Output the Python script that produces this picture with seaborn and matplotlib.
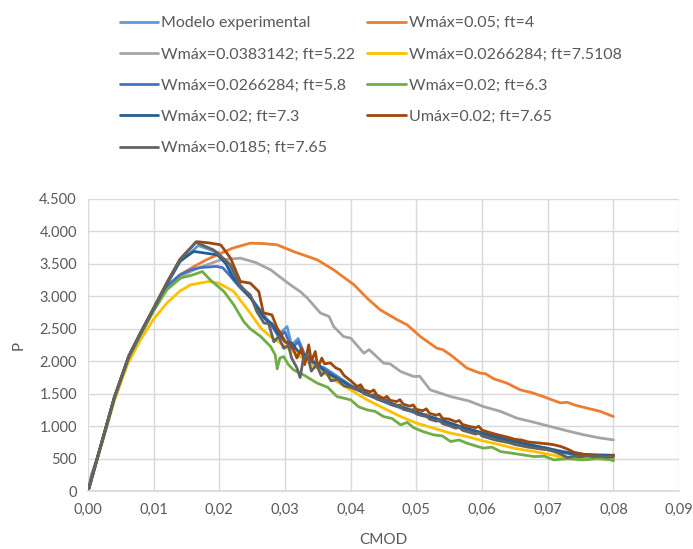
import pandas as pd
import matplotlib
matplotlib.use("Agg")
import matplotlib.pyplot as plt
from matplotlib.ticker import FuncFormatter, MultipleLocator
import seaborn as sns

# Series names (legend order, row by row)
names = [
    "Modelo experimental",
    "Wmáx=0.05; ft=4",
    "Wmáx=0.0383142; ft=5.22",
    "Wmáx=0.0266284; ft=7.5108",
    "Wmáx=0.0266284; ft=5.8",
    "Wmáx=0.02; ft=6.3",
    "Wmáx=0.02; ft=7.3",
    "Umáx=0.02; ft=7.65",
    "Wmáx=0.0185; ft=7.65",
]
colors = ["#5B9BD5", "#ED7D31", "#A5A5A5", "#FFC000", "#4472C4",
          "#70AD47", "#255E91", "#9E480E", "#636363"]

# Modelo experimental
x_exp = [0, 0.0005, 0.002, 0.004, 0.0062, 0.008, 0.010, 0.012, 0.014, 0.0168, 0.0199,
         0.0215, 0.023, 0.025, 0.0265, 0.028, 0.029, 0.0303, 0.031, 0.032, 0.033, 0.034,
         0.035, 0.036, 0.0375, 0.039, 0.040, 0.042, 0.044, 0.046, 0.048, 0.050, 0.052,
         0.054, 0.056, 0.058, 0.060, 0.062, 0.064, 0.066, 0.068, 0.070, 0.072, 0.074,
         0.076, 0.078, 0.080]
p_exp = [0, 250, 700, 1400, 2040, 2420, 2800, 3180, 3530, 3780, 3668,
         3450, 3200, 2950, 2750, 2550, 2400, 2535, 2250, 2350, 2100, 2050,
         1930, 1900, 1800, 1700, 1630, 1530, 1430, 1350, 1290, 1220, 1150,
         1080, 1010, 950, 900, 840, 790, 740, 700, 660, 620, 580,
         560, 540, 470]

# Wmáx=0.05; ft=4
x_w1 = [0, 0.002, 0.004, 0.0062, 0.008, 0.010, 0.012, 0.014, 0.016, 0.018, 0.020, 0.022,
        0.0247, 0.0268, 0.0288, 0.0313, 0.0349, 0.0374, 0.0405, 0.0425, 0.0445, 0.0471,
        0.0486, 0.0506, 0.0531, 0.054, 0.0552, 0.0577, 0.0597, 0.0605, 0.0618, 0.0638,
        0.0658, 0.0675, 0.0693, 0.0719, 0.073, 0.074, 0.076, 0.078, 0.080]
p_w1 = [0, 720, 1440, 2060, 2420, 2790, 3150, 3330, 3450, 3560, 3650, 3740,
        3817, 3810, 3791, 3688, 3561, 3407, 3176, 2971, 2791, 2638,
        2561, 2381, 2202, 2180, 2099, 1895, 1818, 1810, 1730, 1664,
        1561, 1520, 1458, 1361, 1370, 1330, 1279, 1230, 1150]

# Wmáx=0.0383142; ft=5.22
x_w2 = [0, 0.002, 0.004, 0.0062, 0.008, 0.010, 0.012, 0.014, 0.016, 0.018, 0.0202, 0.0232,
        0.0255, 0.0278, 0.0298, 0.0308, 0.0323, 0.0334, 0.0354, 0.0367, 0.0374, 0.0389,
        0.040, 0.042, 0.0428, 0.045, 0.046, 0.0476, 0.0496, 0.0505, 0.0521, 0.0552,
        0.058, 0.0602, 0.0628, 0.0653, 0.068, 0.0704, 0.073, 0.0755, 0.078, 0.080]
p_w2 = [0, 720, 1440, 2060, 2420, 2780, 3120, 3300, 3400, 3480, 3561, 3586,
        3520, 3407, 3253, 3176, 3073, 2971, 2741, 2689, 2535, 2381,
        2356, 2125, 2180, 1972, 1960, 1843, 1766, 1770, 1561, 1458,
        1390, 1304, 1230, 1126, 1060, 997, 930, 869, 820, 792]

# Wmáx=0.0266284; ft=7.5108
x_w3 = [0, 0.002, 0.004, 0.006, 0.008, 0.010, 0.012, 0.014, 0.0156, 0.0184, 0.0199, 0.0222,
        0.0247, 0.0263, 0.0278, 0.030, 0.0323, 0.035, 0.0374, 0.040, 0.0425, 0.045,
        0.0476, 0.050, 0.0526, 0.055, 0.0577, 0.060, 0.0628, 0.065, 0.0679, 0.0719,
        0.075, 0.0775, 0.080]
p_w3 = [0, 700, 1400, 1950, 2330, 2650, 2894, 3080, 3176, 3227, 3202, 3073,
        2741, 2510, 2381, 2230, 2073, 1890, 1715, 1560, 1407, 1280,
        1150, 1050, 972, 900, 843, 780, 715, 660, 612, 535,
        520, 515, 510]

# Wmáx=0.0266284; ft=5.8
x_w4 = [0, 0.002, 0.004, 0.0062, 0.008, 0.010, 0.012, 0.014, 0.0155, 0.017, 0.0195, 0.0205,
        0.0215, 0.023, 0.025, 0.0265, 0.028, 0.029, 0.030, 0.031, 0.032, 0.033, 0.034,
        0.035, 0.036, 0.0375, 0.039, 0.040, 0.042, 0.044, 0.046, 0.048, 0.050, 0.052,
        0.054, 0.056, 0.058, 0.060, 0.062, 0.064, 0.066, 0.068, 0.070, 0.072, 0.074,
        0.076, 0.078, 0.080]
p_w4 = [0, 720, 1440, 2070, 2430, 2800, 3150, 3330, 3400, 3440, 3460, 3440,
        3330, 3150, 2950, 2700, 2550, 2380, 2450, 2200, 2300, 2080, 2000,
        1950, 1880, 1780, 1680, 1620, 1510, 1420, 1340, 1270, 1200, 1130,
        1060, 990, 940, 880, 830, 770, 730, 680, 640, 600, 570,
        560, 550, 540]

# Wmáx=0.02; ft=6.3
x_w5 = [0, 0.002, 0.004, 0.0062, 0.008, 0.010, 0.012, 0.0141, 0.016, 0.0174, 0.0186, 0.0207,
        0.0222, 0.0237, 0.0247, 0.0263, 0.0278, 0.0285, 0.0288, 0.0292, 0.0298, 0.0305,
        0.0313, 0.033, 0.0349, 0.0365, 0.0379, 0.040, 0.0412, 0.0425, 0.0437, 0.045,
        0.0463, 0.0476, 0.0486, 0.0496, 0.051, 0.0526, 0.054, 0.0552, 0.0565, 0.0577,
        0.059, 0.0602, 0.0615, 0.0628, 0.065, 0.0679, 0.0695, 0.0709, 0.073, 0.0754,
        0.0775, 0.080]
p_w5 = [0, 720, 1430, 2050, 2400, 2780, 3099, 3279, 3330, 3381, 3253, 3073,
        2868, 2612, 2500, 2381, 2227, 2100, 1884, 2050, 2073, 1950,
        1868, 1780, 1664, 1600, 1458, 1407, 1300, 1253, 1230, 1150,
        1120, 1023, 1060, 977, 920, 869, 850, 766, 790, 741,
        700, 664, 680, 612, 580, 535, 540, 484, 500, 484,
        500, 484]

# Wmáx=0.02; ft=7.3
x_w6 = [0, 0.002, 0.004, 0.0062, 0.008, 0.010, 0.012, 0.014, 0.0161, 0.0197, 0.021, 0.022,
        0.0232, 0.0247, 0.026, 0.027, 0.028, 0.029, 0.030, 0.031, 0.032, 0.033, 0.034,
        0.035, 0.036, 0.0375, 0.039, 0.040, 0.042, 0.044, 0.046, 0.048, 0.050, 0.052,
        0.054, 0.056, 0.058, 0.060, 0.062, 0.064, 0.066, 0.068, 0.070, 0.072, 0.074,
        0.076, 0.078, 0.080]
p_w6 = [0, 720, 1440, 2075, 2435, 2810, 3190, 3540, 3690, 3637, 3500, 3300,
        3150, 2980, 2800, 2650, 2580, 2420, 2300, 2280, 2150, 2100, 2000,
        1950, 1850, 1760, 1680, 1610, 1520, 1440, 1360, 1290, 1220, 1150,
        1090, 1020, 960, 900, 840, 790, 750, 700, 660, 610, 580,
        565, 560, 555]

# Umáx=0.02; ft=7.65
x_u7 = [0, 0.002, 0.004, 0.0062, 0.008, 0.010, 0.012, 0.014, 0.0165, 0.0185, 0.0202, 0.0217,
        0.0232, 0.0247, 0.026, 0.0267, 0.028, 0.0288, 0.0293, 0.030, 0.031, 0.0318,
        0.0325, 0.033, 0.0336, 0.034, 0.0346, 0.035, 0.0356, 0.036, 0.0369, 0.0377,
        0.0384, 0.039, 0.040, 0.041, 0.0415, 0.042, 0.043, 0.0435, 0.044, 0.045,
        0.0455, 0.046, 0.047, 0.0475, 0.048, 0.049, 0.0495, 0.050, 0.051, 0.0515,
        0.052, 0.053, 0.0535, 0.054, 0.055, 0.056, 0.0565, 0.057, 0.058, 0.059,
        0.0595, 0.060, 0.061, 0.062, 0.063, 0.064, 0.065, 0.066, 0.067, 0.068,
        0.069, 0.070, 0.071, 0.072, 0.073, 0.074, 0.075, 0.076, 0.077, 0.078,
        0.079, 0.080]
p_u7 = [0, 720, 1440, 2080, 2440, 2820, 3210, 3570, 3840, 3820, 3791, 3586,
        3227, 3202, 3073, 2745, 2714, 2510, 2437, 2300, 2250, 2050,
        2200, 1950, 2253, 2000, 2150, 1900, 2050, 1960, 1976, 1900,
        1868, 1780, 1700, 1610, 1640, 1560, 1530, 1560, 1480, 1430,
        1460, 1400, 1380, 1410, 1340, 1310, 1330, 1260, 1240, 1270,
        1200, 1170, 1190, 1120, 1110, 1070, 1090, 1030, 1000, 980,
        1000, 940, 910, 880, 855, 830, 800, 790, 760, 750,
        740, 730, 715, 690, 650, 600, 580, 560, 550, 540,
        530, 560]

# Wmáx=0.0185; ft=7.65
x_w8 = [0, 0.002, 0.004, 0.0062, 0.008, 0.010, 0.012, 0.014, 0.0164, 0.0191, 0.0217, 0.0232,
        0.0247, 0.0257, 0.0268, 0.0275, 0.0283, 0.029, 0.0298, 0.0305, 0.031, 0.0318,
        0.0323, 0.0328, 0.0334, 0.034, 0.0348, 0.0355, 0.0362, 0.037, 0.038, 0.039,
        0.040, 0.041, 0.0415, 0.042, 0.043, 0.0435, 0.044, 0.045, 0.0455, 0.046,
        0.047, 0.0475, 0.048, 0.049, 0.0495, 0.050, 0.051, 0.0515, 0.052, 0.053,
        0.0535, 0.054, 0.055, 0.056, 0.0565, 0.057, 0.058, 0.059, 0.0595, 0.060,
        0.061, 0.062, 0.063, 0.064, 0.065, 0.066, 0.067, 0.068, 0.069, 0.070,
        0.071, 0.072, 0.073, 0.074, 0.075, 0.076, 0.077, 0.078, 0.079, 0.080]
p_w8 = [0, 720, 1440, 2080, 2440, 2820, 3200, 3560, 3830, 3714, 3484, 3150,
        3022, 2765, 2587, 2580, 2300, 2380, 2200, 2250, 2050, 1900,
        1750, 2050, 2100, 1850, 1950, 1780, 1850, 1700, 1720, 1620,
        1600, 1560, 1590, 1500, 1470, 1490, 1420, 1390, 1410, 1340,
        1310, 1330, 1260, 1240, 1260, 1190, 1160, 1180, 1110, 1080,
        1100, 1040, 1010, 970, 990, 940, 910, 880, 900, 850,
        820, 790, 770, 750, 720, 700, 680, 665, 650, 640,
        610, 570, 520, 540, 530, 545, 530, 540, 525, 530]

xs = [x_exp, x_w1, x_w2, x_w3, x_w4, x_w5, x_w6, x_u7, x_w8]
ps = [p_exp, p_w1, p_w2, p_w3, p_w4, p_w5, p_w6, p_u7, p_w8]

frames = []
for name, x, p in zip(names, xs, ps):
    frames.append(pd.DataFrame({"serie": name, "CMOD": x, "P": p}))
df = pd.concat(frames, ignore_index=True)

sns.set_theme(style="white")
plt.rcParams["font.family"] = ["Lato", "DejaVu Sans"]
text_color = "#595959"

fig = plt.figure(figsize=(6.93, 5.49), dpi=100)
ax = fig.add_axes([0.127, 0.105, 0.853, 0.533])

sns.lineplot(
    data=df,
    x="CMOD",
    y="P",
    hue="serie",
    hue_order=names,
    palette=colors,
    estimator=None,
    sort=False,
    linewidth=2,
    ax=ax,
)

ax.set_xlim(0, 0.09)
ax.set_ylim(0, 4500)
ax.xaxis.set_major_locator(MultipleLocator(0.01))
ax.yaxis.set_major_locator(MultipleLocator(500))
ax.xaxis.set_major_formatter(FuncFormatter(lambda v, pos: f"{v:.2f}".replace(".", ",")))
ax.yaxis.set_major_formatter(FuncFormatter(lambda v, pos: f"{v:,.0f}".replace(",", ".")))
ax.grid(True, color="#D9D9D9", linewidth=1)
ax.set_axisbelow(True)
for side in ["top", "right", "left"]:
    ax.spines[side].set_visible(False)
ax.spines["bottom"].set_color("#D9D9D9")
ax.tick_params(axis="both", length=0, labelsize=10.5, colors=text_color, pad=8)
ax.set_xlabel("CMOD", fontsize=11, color=text_color, labelpad=12)
ax.set_ylabel("P", fontsize=11, color=text_color, labelpad=10)

# Legend: reorder so the two columns read row by row
handles, labels = ax.get_legend_handles_labels()
ax.get_legend().remove()
order = [0, 2, 4, 6, 8, 1, 3, 5, 7]
fig.legend(
    [handles[i] for i in order],
    [labels[i] for i in order],
    loc="upper left",
    bbox_to_anchor=(0.152, 0.997),
    ncol=2,
    frameon=False,
    fontsize=11.5,
    handlelength=2.4,
    handletextpad=0.2,
    columnspacing=0.75,
    labelspacing=1.07,
    labelcolor=text_color,
)

fig.savefig("out.png", dpi=100, facecolor="white")
